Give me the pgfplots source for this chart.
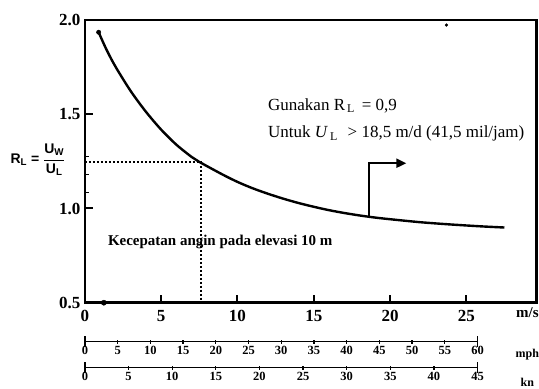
\documentclass[border=0pt]{standalone}
\usepackage{pgfplots}
\pgfplotsset{compat=1.18}
\usepackage{fontspec}
\setmainfont{Liberation Serif}
\newfontfamily\sansb{Liberation Sans}
\usetikzlibrary{arrows.meta}
\begin{document}
\begin{tikzpicture}
\path (0pt,0pt) rectangle (539pt,389pt);
% main axis
\begin{axis}[
  at={(85pt,86pt)}, anchor=south west,
  scale only axis, width=452pt, height=283pt,
  xmin=0, xmax=29.6, ymin=0.5, ymax=2.0,
  clip=false,
  axis lines=box,
  axis line style={line width=2.4pt, black},
  tick align=inside,
  xtick pos=bottom, ytick pos=left,
  xtick={0,5,10,15,20,25}, xticklabels={0,5,10,15,20,25},
  ytick={0.5,1.0,1.5,2.0}, yticklabels={0.5,1.0,1.5,2.0},
  extra y ticks={1.085,1.18,1.275}, extra y tick labels={,,},
  extra y tick style={major tick length=4pt, tick style={line width=1.5pt}},
  major tick length=8pt,
  tick style={line width=2pt, black},
  ticklabel style={font=\fontsize{17}{20}\selectfont\bfseries},
  xticklabel style={yshift=-4pt},
  yticklabel style={xshift=-1pt},
]
\draw[line width=2.6pt, line join=miter, black] (rel axis cs:0,0) rectangle (rel axis cs:1,1);
% curve
\addplot[line width=2.4pt, smooth] coordinates {
 (0.9,1.935) (1.4,1.845) (2,1.753) (3,1.623) (4,1.513) (5,1.418) (6,1.338)
 (7,1.273) (7.5,1.247) (9,1.181) (10,1.141) (11,1.107) (12,1.078) (13,1.052)
 (14,1.029) (15,1.009) (16,0.991) (17,0.976) (18,0.963) (19,0.952) (20,0.943)
 (22,0.927) (24,0.915) (26,0.905) (27.5,0.899)
};
\addplot[only marks, mark=*, mark size=2.2pt] coordinates {(0.9,1.935)};
\addplot[only marks, mark=*, mark size=2.6pt] coordinates {(1.24,0.5)};
\addplot[only marks, mark=*, mark size=1.4pt] coordinates {(23.7,1.973)};
% dashed guide lines
\addplot[line width=2pt, dash pattern=on 2.5pt off 1.5pt] coordinates {(0,1.247) (7.6,1.247) (7.6,0.5)};
% arrow
\addplot[line width=2pt, line join=miter, -{Triangle[length=10pt,width=9pt]}] coordinates {(18.65,0.958) (18.65,1.24) (21.07,1.24)};
% annotations
\node[anchor=west, inner sep=0pt, font=\fontsize{17}{20}\selectfont] at (axis cs:12.0,1.545) {Gunakan R\textsubscript{\,L} \,= 0,9};
\node[anchor=west, inner sep=0pt, font=\fontsize{17}{20}\selectfont] at (axis cs:12.0,1.398) {Untuk \textit{U}\textsubscript{\,L}\, \,> 18,5 m/d (41,5 mil/jam)};
\node[anchor=west, inner sep=0pt, font=\fontsize{15}{18}\selectfont\bfseries] at (axis cs:1.5,0.823) {Kecepatan angin pada elevasi 10 m};
\node[inner sep=0pt, font=\fontsize{14}{16}\selectfont\sansb\bfseries] at (axis cs:-3.08,1.258)
  {R\textsubscript{L} = $\displaystyle\frac{\hbox{\sansb\bfseries U\textsubscript{W}}}{\hbox{\sansb\bfseries U\textsubscript{L}}}$};
\node[inner sep=0pt, font=\fontsize{15}{18}\selectfont\bfseries] at (axis cs:29.0,0.445) {m/s};
\node[inner sep=0pt, font=\fontsize{12}{14}\selectfont\bfseries] at (axis cs:29.0,0.226) {mph};
\node[inner sep=0pt, font=\fontsize{12}{14}\selectfont\bfseries] at (axis cs:29.0,0.079) {kn};
\end{axis}
% mph scale
\begin{axis}[
  at={(85pt,47pt)}, anchor=south west,
  scale only axis, width=393pt, height=1pt,
  xmin=0, xmax=60, ymin=0, ymax=1,
  axis x line*=bottom, hide y axis,
  x axis line style={-, line width=1.6pt},
  xtick={0,5,...,60},
  xticklabels={0,5,10,15,20,25,30,35,40,45,50,55,60},
  tick align=center, major tick length=4pt,
  tick style={line width=1.3pt, black},
  extra x ticks={0,60}, extra x tick labels={,},
  extra x tick style={major tick length=11pt},
  ticklabel style={font=\fontsize{12.5}{14}\selectfont\bfseries, inner sep=1pt, yshift=-1pt},
]
\end{axis}
% kn scale
\begin{axis}[
  at={(85pt,21pt)}, anchor=south west,
  scale only axis, width=393pt, height=1pt,
  xmin=0, xmax=45, ymin=0, ymax=1,
  axis x line*=bottom, hide y axis,
  x axis line style={-, line width=1.6pt},
  xtick={0,5,...,45},
  xticklabels={0,5,10,15,20,25,30,35,40,45},
  tick align=center, major tick length=4pt,
  tick style={line width=1.3pt, black},
  extra x ticks={0,45}, extra x tick labels={,},
  extra x tick style={major tick length=11pt},
  ticklabel style={font=\fontsize{12.5}{14}\selectfont\bfseries, inner sep=1pt, yshift=-1pt},
]
\end{axis}
\end{tikzpicture}
\end{document}
